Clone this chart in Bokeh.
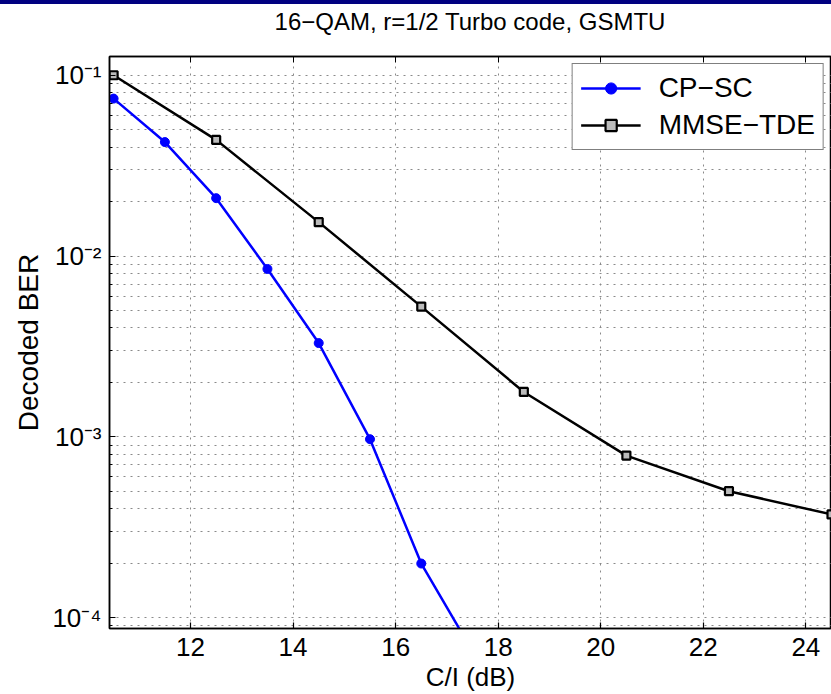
from bokeh.plotting import figure
from bokeh.models import (Range1d, LinearAxis, FixedTicker, CustomJSTickFormatter,
                          Legend, LegendItem, Div)
from bokeh.layouts import column
from bokeh.embed import file_html
from bokeh.resources import INLINE

# ---- data ----
cp_x = [10.5, 11.5, 12.5, 13.5, 14.5, 15.5, 16.5, 17.5]
cp_ber = [0.0743, 0.0427, 0.0209, 0.00848, 0.0033, 0.00097, 0.000199, 0.000065]
mm_x = [10.5, 12.5, 14.5, 16.5, 18.5, 20.5, 22.5, 24.5]
mm_ber = [0.1, 0.0439, 0.0154, 0.00525, 0.00177, 0.000787, 0.0005, 0.000372]
x_ticks = [12, 14, 16, 18, 20, 22, 24]
y_ticks = [1e-4, 1e-3, 1e-2, 1e-1]
y_minor = [m * 10.0 ** e for e in range(-5, 0) for m in range(2, 10)]
title_text = "16\u2212QAM, r=1/2 Turbo code, GSMTU"

FONT = "Liberation Sans"

p = figure(width=831, height=650, y_axis_type="log",
           x_range=Range1d(10.42, 24.5), y_range=Range1d(8.7e-5, 0.127),
           output_backend="svg", toolbar_location=None,
           min_border_left=109, min_border_right=0, min_border_top=12,
           min_border_bottom=66)
p.background_fill_color = "white"
p.border_fill_color = "white"
p.outline_line_color = "black"
p.outline_line_width = 1.5

# x axis
xa = p.xaxis[0]
xa.ticker = FixedTicker(ticks=x_ticks)
xa.axis_label = "C/I (dB)"
xa.axis_label_text_font = FONT
xa.axis_label_text_font_size = "26px"
xa.axis_label_text_font_style = "normal"
xa.axis_label_text_color = "black"
xa.axis_label_standoff = 3
xa.major_label_text_font = FONT
xa.major_label_text_font_size = "26px"
xa.major_label_text_color = "black"
xa.major_label_standoff = 9
xa.major_tick_in = 6
xa.major_tick_out = 0
xa.minor_tick_line_color = None
xa.axis_line_width = 1.5
xa.major_tick_line_width = 1.2

# y axis
ya = p.yaxis[0]
ya.ticker = FixedTicker(ticks=y_ticks, minor_ticks=y_minor)
ya.formatter = CustomJSTickFormatter(code="""
const sup = {'-':'\u207b','0':'\u2070','1':'\u00b9','2':'\u00b2','3':'\u00b3','4':'\u2074',
             '5':'\u2075','6':'\u2076','7':'\u2077','8':'\u2078','9':'\u2079'};
const e = Math.round(Math.log10(tick));
return '10' + String(e).split('').map(c => sup[c]).join('');
""")
ya.axis_label = "Decoded BER"
ya.axis_label_text_font = FONT
ya.axis_label_text_font_size = "28px"
ya.axis_label_text_font_style = "normal"
ya.axis_label_text_color = "black"
ya.major_label_text_font = FONT
ya.major_label_text_font_size = "26px"
ya.major_label_text_color = "black"
ya.major_label_standoff = 8
ya.major_tick_in = 6
ya.major_tick_out = 0
ya.minor_tick_in = 3
ya.minor_tick_out = 0
ya.axis_line_width = 1.5

# top axis: ticks only (empty labels)
top = LinearAxis(ticker=FixedTicker(ticks=x_ticks),
                 formatter=CustomJSTickFormatter(code="return '';"),
                 major_tick_in=6, major_tick_out=0, minor_tick_line_color=None,
                 axis_line_width=1.5, major_label_standoff=0)
p.add_layout(top, "above")

# grid
for g in (p.xgrid[0], p.ygrid[0]):
    g.grid_line_color = "#8a8a8a"
    g.grid_line_dash = "2 5"
    g.grid_line_width = 1
p.xgrid[0].ticker = FixedTicker(ticks=x_ticks)
p.ygrid[0].ticker = FixedTicker(ticks=y_ticks, minor_ticks=y_minor)
p.ygrid[0].minor_grid_line_color = "#8a8a8a"
p.ygrid[0].minor_grid_line_dash = "2 5"
p.ygrid[0].minor_grid_line_width = 1

# series
l1 = p.line(cp_x, cp_ber, line_color="#0000ff", line_width=2.5)
m1 = p.scatter(cp_x, cp_ber, marker="circle", size=9, fill_color="#0000ff",
               line_color="#0000ff")
l2 = p.line(mm_x, mm_ber, line_color="black", line_width=2.5)
m2 = p.scatter(mm_x, mm_ber, marker="square", size=8, fill_color="#bbbbbb",
               line_color="black", line_width=2.2)

legend = Legend(items=[LegendItem(label="CP\u2212SC", renderers=[l1, m1]),
                       LegendItem(label="MMSE\u2212TDE", renderers=[l2, m2])],
                location="top_right")
legend.label_text_font = FONT
legend.label_text_font_size = "28px"
legend.label_text_color = "black"
legend.label_standoff = 18
legend.glyph_width = 60
legend.glyph_height = 28
legend.label_height = 28
legend.spacing = 5
legend.padding = 8
legend.margin = 7
legend.border_line_color = "black"
legend.border_line_width = 1.5
legend.background_fill_alpha = 1
p.add_layout(legend)

bar = Div(text="", width=831, height=4,
          styles={"background-color": "#000080", "margin": "0"})
title_div = Div(text=title_text, width=831, height=40,
                styles={"margin": "0", "padding-left": "109px",
                        "box-sizing": "border-box", "text-align": "center",
                        "font-family": "'Liberation Sans', Arial, sans-serif",
                        "font-size": "24px", "line-height": "36px",
                        "color": "black", "background-color": "white"})
layout = column(bar, title_div, p, spacing=0)

open("out.html", "w").write(file_html(layout, INLINE))
